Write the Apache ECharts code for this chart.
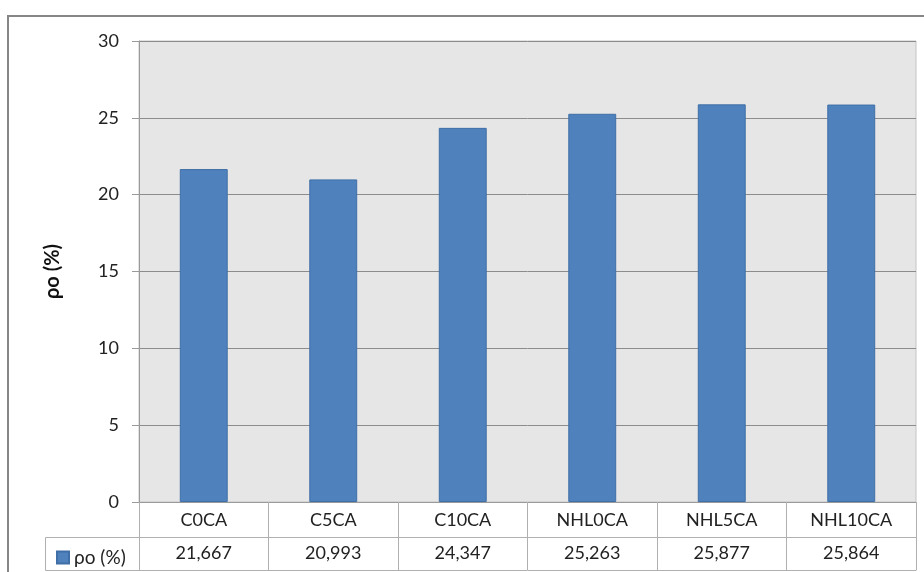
<!DOCTYPE html>
<html>
<head>
<meta charset="utf-8">
<script src="https://cdn.jsdelivr.net/npm/echarts@6/dist/echarts.min.js"></script>
<style>
  html, body { margin: 0; padding: 0; background: #fff; }
  #main { width: 924px; height: 572px; }
</style>
</head>
<body>
<div id="main"></div>
<script>
var categories = ["C0CA", "C5CA", "C10CA", "NHL0CA", "NHL5CA", "NHL10CA"];
var seriesName = "ρo (%)";
var values = [21.667, 20.993, 24.347, 25.263, 25.877, 25.864];
var yTicks = [0, 5, 10, 15, 20, 25, 30];

var font = "Lato, 'Open Sans', sans-serif";
var lineGrey = "#9a9a9a";
var valueLabels = values.map(function (v) { return v.toFixed(3).replace(".", ","); });

var myChart = echarts.init(document.getElementById("main"));
myChart.setOption({
  animation: false,
  backgroundColor: "#fff",
  textStyle: { fontFamily: font },
  grid: {
    left: 139, right: 8, top: 41, bottom: 70,
    show: true, backgroundColor: "#e6e6e6", borderColor: "#c4c4c4", borderWidth: 1
  },
  legend: {
    data: [seriesName],
    left: 51, top: 543,
    icon: "rect", itemWidth: 12, itemHeight: 12, itemGap: 6,
    textStyle: { fontSize: 19, color: "#222", fontFamily: font }
  },
  xAxis: [
    {
      type: "category", data: categories, position: "bottom",
      axisLine: { show: true, lineStyle: { color: lineGrey } },
      axisTick: { show: true, length: 35, lineStyle: { color: "#b0b0b0" } },
      axisLabel: { margin: 9, fontSize: 18, color: "#222", fontFamily: font }
    },
    {
      type: "category", data: valueLabels, position: "bottom", offset: 35,
      axisLine: { show: true, lineStyle: { color: "#b0b0b0" } },
      axisTick: { show: true, length: 33, lineStyle: { color: "#b0b0b0" } },
      axisLabel: { margin: 7, fontSize: 18, color: "#222", fontFamily: font }
    },
    {
      type: "category", data: categories, position: "bottom", offset: 68,
      axisLine: { show: true, lineStyle: { color: "#b0b0b0" } },
      axisTick: { show: false },
      axisLabel: { show: false }
    }
  ],
  yAxis: {
    type: "value",
    min: yTicks[0], max: yTicks[yTicks.length - 1], interval: yTicks[1] - yTicks[0],
    name: seriesName, nameLocation: "middle", nameGap: 76,
    nameTextStyle: { fontSize: 20, fontWeight: "bold", color: "#111", fontFamily: font },
    axisLine: { show: true, lineStyle: { color: lineGrey } },
    axisTick: { show: true, length: 7, lineStyle: { color: lineGrey } },
    axisLabel: { margin: 20, fontSize: 18, color: "#222", fontFamily: font },
    splitLine: { show: true, lineStyle: { color: "#8c8c8c" } }
  },
  graphic: [
    {
      type: "rect", silent: true, z: -1,
      shape: { x: 8, y: 16, width: 940, height: 600 },
      style: { fill: null, stroke: "#868686", lineWidth: 2 }
    },
    {
      type: "polyline", silent: true,
      shape: { points: [[139, 537.5], [45.5, 537.5], [45.5, 570.5], [139, 570.5]] },
      style: { fill: null, stroke: "#b0b0b0", lineWidth: 1 }
    }
  ],
  series: [
    {
      name: seriesName,
      type: "bar",
      data: values,
      barWidth: "37%",
      itemStyle: { color: "#4f81bd", borderColor: "#3f6fa6", borderWidth: 1 }
    }
  ]
});
window.addEventListener("resize", function () { myChart.resize(); });
</script>
</body>
</html>
